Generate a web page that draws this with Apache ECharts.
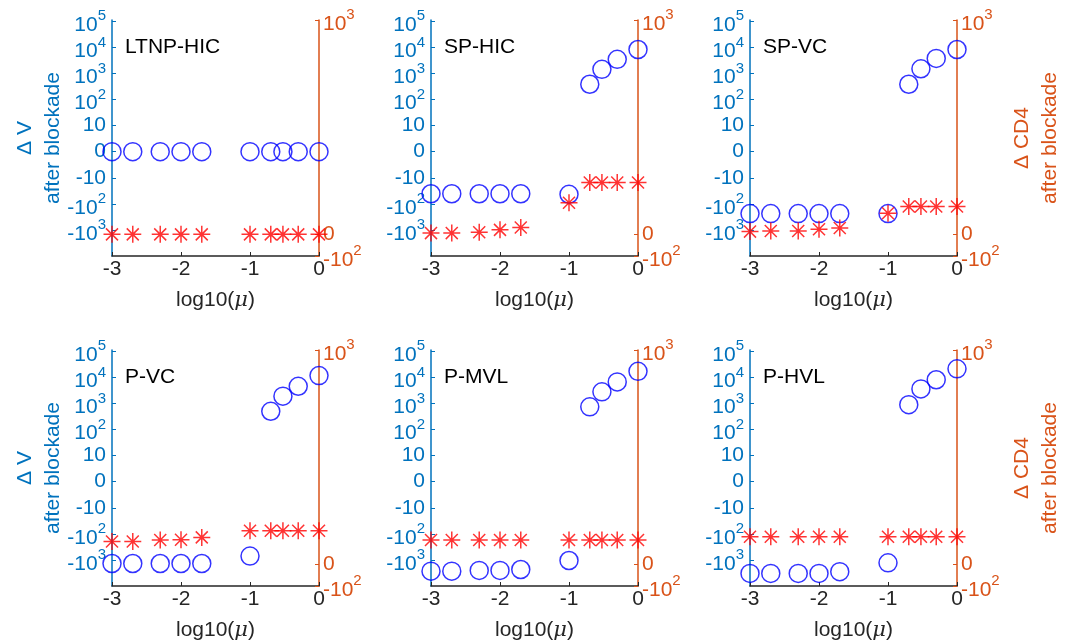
<!DOCTYPE html>
<html>
<head>
<meta charset="utf-8">
<script src="https://cdn.jsdelivr.net/npm/echarts@6/dist/echarts.min.js"></script>
<style>
  html, body { margin: 0; padding: 0; background: #fff; }
  #chart { width: 1072px; height: 642px; }
</style>
</head>
<body>
<div id="chart"></div>
<script>
// Blockade strength mu (x axis shows log10(mu))
const mu = [0.001, 0.002, 0.005, 0.01, 0.02, 0.1, 0.2, 0.3, 0.5, 1];

const panelNames = ['LTNP-HIC', 'SP-HIC', 'SP-VC', 'P-VC', 'P-MVL', 'P-HVL'];

// Change in viral load after blockade (left axis, symmetric log scale)
const dV_LTNP_HIC = [0, 0, 0, 0, 0, 0, 0, 0, 0, 0];
const dV_SP_HIC   = [-40, -40, -40, -40, -40, -42, 385, 1440, 3470, 8300];
const dV_SP_VC    = [-236, -236, -236, -236, -236, -236, 385, 1510, 3780, 8300];
const dV_P_VC     = [-1370, -1370, -1370, -1370, -1370, -710, 500, 1900, 4560, 11700];
const dV_P_MVL    = [-2690, -2690, -2530, -2530, -2330, -1050, 740, 2780, 6700, 17100];
const dV_P_HVL    = [-3300, -3300, -3300, -3300, -2830, -1290, 900, 3600, 8100, 21300];

// Change in CD4 count after blockade (right axis, linear)
const dCD4_LTNP_HIC = [0, 0, 0, 0, 0, 0, 0, 0, 0, 0];
const dCD4_SP_HIC   = [6, 6, 10, 21, 32, 148, 242, 242, 242, 242];
const dCD4_SP_VC    = [13, 16, 16, 24, 30, 99, 130, 130, 130, 130];
const dCD4_P_VC     = [107, 107, 114, 115, 126, 157, 157, 157, 157, 157];
const dCD4_P_MVL    = [114, 114, 114, 114, 114, 114, 114, 114, 114, 114];
const dCD4_P_HVL    = [129, 129, 129, 129, 129, 129, 129, 129, 129, 129];

// Tick positions (in decades) of the left axis, and values of the right axis
const vTicks = [-3, -2, -1, 0, 1, 2, 3, 4, 5];
const cd4Ticks = [-100, 0, 1000];

const dVSets = [dV_LTNP_HIC, dV_SP_HIC, dV_SP_VC, dV_P_VC, dV_P_MVL, dV_P_HVL];
const dCD4Sets = [dCD4_LTNP_HIC, dCD4_SP_HIC, dCD4_SP_VC, dCD4_P_VC, dCD4_P_MVL, dCD4_P_HVL];

const BLUE_AX = '#0072BD';
const ORANGE_AX = '#D95319';
const DARK = '#262626';
const FONT = 'Liberation Sans, Arial, Helvetica, sans-serif';
const FS = 21;

// axis extents
const V_MIN = -4, V_MAX = 5.05;
const C_MIN = -101, C_MAX = 1001;

// symmetric log transform used for the left axis
function symlog(v) { return Math.sign(v) * Math.log10(1 + Math.abs(v)); }

// p: plain label; b: base of a power (sits a little low); s: exponent, drawn raised
const richLabel = {
  p: { fontSize: FS, lineHeight: FS, fontFamily: FONT },
  b: { fontSize: FS, lineHeight: FS, verticalAlign: 'top', padding: [4, 0, 0, 0], fontFamily: FONT },
  s: { fontSize: 15, lineHeight: 15, verticalAlign: 'bottom', padding: [0, 0, 8, 0], fontFamily: FONT }
};

// blank labels at the axis ends keep the end-label overlap check away from the real labels
const vLabelVals = [V_MIN].concat(vTicks, [V_MAX]);
const cd4LabelVals = [C_MIN].concat(cd4Ticks, [C_MAX]);

function vLabel(k) {
  if (Math.abs(k - Math.round(k)) > 1e-6) return ' ';
  if (k === V_MIN) return ' ';
  k = Math.round(k);
  if (k === 0) return '{p|0}';
  if (k === 1) return '{p|10}';
  if (k === -1) return '{p|-10}';
  return '{b|' + (k > 0 ? '10' : '-10') + '}{s|' + Math.abs(k) + '}';
}
function cd4Label(v) {
  if (v === C_MIN || v === C_MAX) return ' ';
  if (v === 0) return '{p|0}';
  const e = Math.round(Math.log10(Math.abs(v)));
  return '{b|' + (v < 0 ? '-10' : '10') + '}{s|' + e + '}';
}

const colLeft = [112, 431, 750];
const rowTop = [20, 350];
const W = 207, H = 236;

const STAR = 'path://M0,-10L0,10M-10,0L10,0M-7.07,-7.07L7.07,7.07M-7.07,7.07L7.07,-7.07';

const grids = [], xAxes = [], yAxes = [], series = [], titles = [];

panelNames.forEach((name, i) => {
  const col = i % 3, row = Math.floor(i / 3);
  grids.push({ left: colLeft[col], top: rowTop[row], width: W, height: H, outerBoundsMode: 'none' });
  titles.push({
    text: name, left: colLeft[col] + 13, top: rowTop[row] + 17, padding: 0,
    textStyle: { fontSize: FS, fontWeight: 'normal', color: '#000', fontFamily: FONT }
  });
  xAxes.push({
    type: 'value', gridIndex: i, min: -3, max: 0, interval: 1,
    axisLine: { show: true, onZero: false, lineStyle: { color: DARK, width: 1.5 } },
    axisTick: { show: true, inside: true, length: 4, lineStyle: { color: DARK, width: 1 } },
    axisLabel: { color: DARK, fontSize: FS, fontFamily: FONT, margin: 3, showMinLabel: true, showMaxLabel: true },
    splitLine: { show: false },
    name: 'log10({i|μ})', nameLocation: 'middle', nameGap: 34, nameMoveOverlap: false,
    nameTextStyle: {
      color: DARK, fontSize: FS, fontFamily: FONT,
      rich: { i: { fontStyle: 'italic', fontSize: FS, fontFamily: 'DejaVu Serif, serif', color: DARK } }
    }
  });
  yAxes.push({
    type: 'value', gridIndex: i, position: 'left', min: V_MIN, max: V_MAX,
    axisLine: { show: true, onZero: false, lineStyle: { color: BLUE_AX, width: 1.5 } },
    axisTick: { show: true, inside: true, length: 4, customValues: vTicks, lineStyle: { color: BLUE_AX, width: 1 } },
    axisLabel: {
      color: BLUE_AX, margin: 6, customValues: vLabelVals, formatter: vLabel, rich: richLabel,
      showMinLabel: false, showMaxLabel: false, hideOverlap: false
    },
    splitLine: { show: false },
    name: col === 0 ? 'Δ V\nafter blockade' : '', nameLocation: 'middle', nameRotate: 90, nameGap: 45,
    nameMoveOverlap: false,
    nameTextStyle: { color: BLUE_AX, fontSize: FS, lineHeight: 28, fontFamily: FONT }
  });
  yAxes.push({
    type: 'value', gridIndex: i, position: 'right', min: C_MIN, max: C_MAX,
    axisLine: { show: true, onZero: false, lineStyle: { color: ORANGE_AX, width: 1.5 } },
    axisTick: { show: true, inside: true, length: 4, customValues: cd4Ticks, lineStyle: { color: ORANGE_AX, width: 1 } },
    axisLabel: {
      color: ORANGE_AX, margin: 4, customValues: cd4LabelVals, formatter: cd4Label, rich: richLabel,
      showMinLabel: false, showMaxLabel: false, hideOverlap: false
    },
    splitLine: { show: false },
    name: col === 2 ? 'Δ CD4\nafter blockade' : '', nameLocation: 'middle', nameRotate: 90, nameGap: 51,
    nameMoveOverlap: false,
    nameTextStyle: { color: ORANGE_AX, fontSize: FS, lineHeight: 28, fontFamily: FONT }
  });
  series.push({
    type: 'scatter', xAxisIndex: i, yAxisIndex: 2 * i, clip: false,
    symbol: 'circle', symbolSize: 18,
    itemStyle: { color: 'rgba(0,0,0,0)', borderColor: '#0000FF', borderWidth: 1.5 },
    data: mu.map((m, j) => [Math.log10(m), symlog(dVSets[i][j])]),
    z: 2
  });
  series.push({
    type: 'scatter', xAxisIndex: i, yAxisIndex: 2 * i + 1, clip: false,
    symbol: STAR, symbolSize: 17,
    itemStyle: { color: 'rgba(0,0,0,0)', borderColor: '#FF0000', borderWidth: 1.5 },
    data: mu.map((m, j) => [Math.log10(m), dCD4Sets[i][j]]),
    z: 3
  });
});

const chart = echarts.init(document.getElementById('chart'), null, { renderer: 'canvas' });
chart.setOption({
  animation: false,
  backgroundColor: '#fff',
  textStyle: { fontFamily: FONT },
  title: titles,
  grid: grids,
  xAxis: xAxes,
  yAxis: yAxes,
  series: series
});
</script>
</body>
</html>
